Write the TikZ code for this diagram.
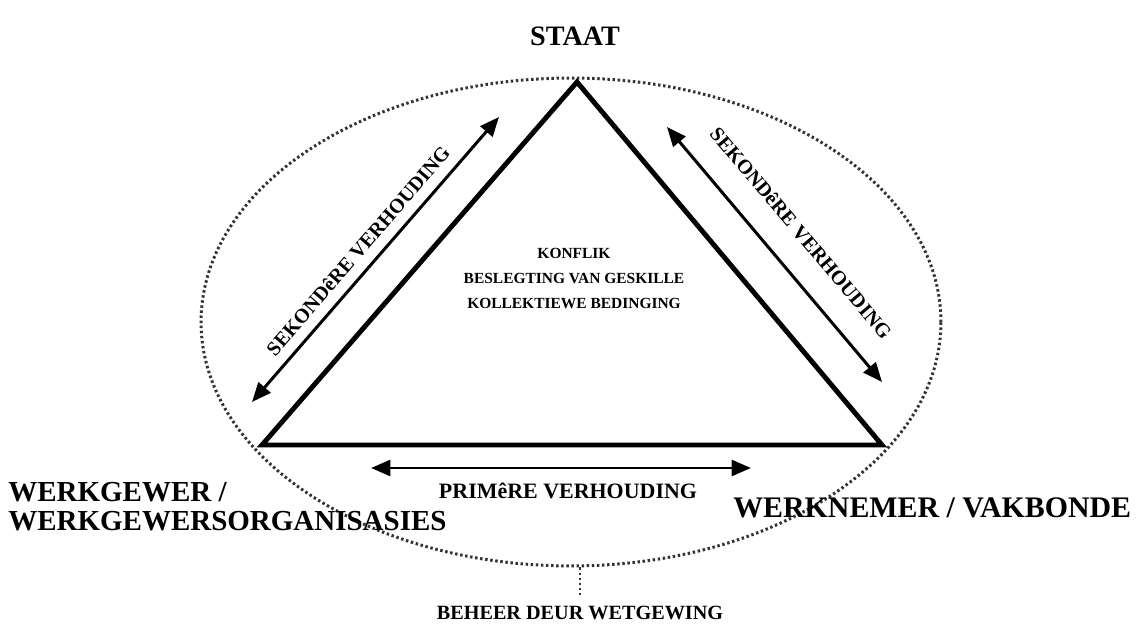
\documentclass[tikz,border=0pt]{standalone}
\usepackage{fontspec}
\setmainfont{Liberation Serif}
\usetikzlibrary{arrows.meta,positioning,calc,shapes.geometric}

\begin{document}
\begin{tikzpicture}[
            x=0.02cm, y=-0.02cm,
            side/.style={line width=2.8pt, line join=miter},
            ring/.style={
                    ellipse,
                    draw=black!80,
                    line width=1.7pt,
                    dash pattern=on 1.4pt off 1.5pt,
                    minimum width=14.8cm,
                    minimum height=9.76cm,
                    inner sep=0pt
                },
            relation/.style={{Triangle[length=11pt,width=9pt]}-{Triangle[length=11pt,width=9pt]}, line width=1.7pt},
            party/.style={font=\bfseries\fontsize{16.5}{16.5}\selectfont, align=left, inner sep=0pt},
            rellabel/.style={font=\bfseries\fontsize{11.5}{13}\selectfont, inner sep=1pt},
            topic/.style={font=\bfseries\fontsize{8.8}{11}\selectfont, inner sep=0pt}
        ]
        \useasboundingbox (0,0) rectangle (1140,628);

        % driehoek
        \coordinate (staat) at (577,82);
        \coordinate (werkgewer) at (262,445);
        \coordinate (werknemer) at (882,445);

        \node[ring] (ring) at (571,322) {};
        \draw[side] (staat) -- (werkgewer) -- (werknemer) -- cycle;

        % verhoudings
        \coordinate (lefta) at (252,402);
        \coordinate (leftb) at (499,117);
        \coordinate (righta) at (667,127);
        \coordinate (rightb) at (882,382);
        \coordinate (bota) at (371,468);
        \coordinate (botb) at (751,468);
        \draw[relation] (lefta) -- (leftb);
        \draw[relation] (righta) -- (rightb);
        \draw[relation] (bota) -- (botb);

        \node[rellabel, rotate=49.2] (leftlbl) at (358,251) {SEKONDêRE VERHOUDING};
        \node[rellabel, rotate=-49.8] (rightlbl) at (801,233) {SEKONDêRE VERHOUDING};
        \node[rellabel, font=\bfseries\fontsize{12.5}{14}\selectfont] (botlbl) at (568,491) {PRIMêRE VERHOUDING};

        % partye
        \node[font=\bfseries\fontsize{16}{16}\selectfont] (staatlbl) at (575,36) {STAAT};
        \node[party, anchor=west] (gewerlbl) at (8,507) {WERKGEWER /\\WERKGEWERSORGANISASIES};
        \node[party, anchor=west, font=\bfseries\fontsize{17}{17}\selectfont] (nemerlbl) at (733,508) {WERKNEMER / VAKBONDE};

        % inhoud
        \node[topic] (konflik) at (574,253) {KONFLIK};
        \node[topic, below=8pt of konflik] (geskille) {BESLEGTING VAN GESKILLE};
        \node[topic, below=8pt of geskille] (bedinging) {KOLLEKTIEWE BEDINGING};

        % wetgewing
        \node[font=\bfseries\fontsize{11.5}{13}\selectfont] (wet) at (580,613) {BEHEER DEUR WETGEWING};
        \draw[black!80, line width=1.7pt, dash pattern=on 1.4pt off 1.5pt] (ring.south -| wet) -- ([yshift=2pt]wet.north);
    \end{tikzpicture}
\end{document}
